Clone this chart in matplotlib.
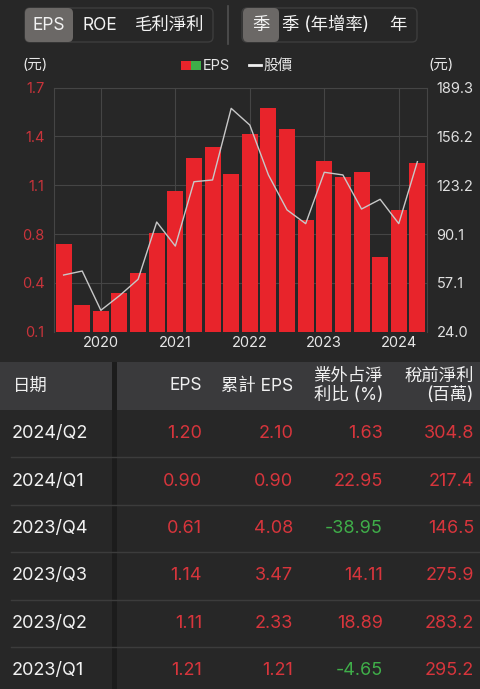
import numpy as np
import matplotlib
matplotlib.use("Agg")
import matplotlib.pyplot as plt
from matplotlib.patches import FancyBboxPatch, Rectangle

plt.rcParams['font.family'] = ['Inter', 'Noto Sans CJK TC', 'DejaVu Sans']

# ---- data ----
quarters = ["2019Q3", "2019Q4",
            "2020Q1", "2020Q2", "2020Q3", "2020Q4",
            "2021Q1", "2021Q2", "2021Q3", "2021Q4",
            "2022Q1", "2022Q2", "2022Q3", "2022Q4",
            "2023Q1", "2023Q2", "2023Q3", "2023Q4",
            "2024Q1", "2024Q2"]
eps = [0.69, 0.31, 0.27, 0.38, 0.51, 0.76, 1.02, 1.23, 1.30, 1.13,
       1.38, 1.54, 1.41, 0.84, 1.21, 1.11, 1.14, 0.61, 0.90, 1.20]
price = [62.4, 65.1, 38.5, 48.4, 59.5, 98.3, 82.0, 125.6, 126.8, 175.3,
         164.0, 130.2, 106.5, 97.2, 132.0, 130.2, 107.1, 113.7, 97.2, 139.2]
year_labels = ["2020", "2021", "2022", "2023", "2024"]
year_idx = [2, 6, 10, 14, 18]

tbl_dates = ["2024/Q2", "2024/Q1", "2023/Q4", "2023/Q3", "2023/Q2", "2023/Q1"]
tbl_eps = ["1.20", "0.90", "0.61", "1.14", "1.11", "1.21"]
tbl_cum = ["2.10", "0.90", "4.08", "3.47", "2.33", "1.21"]
tbl_ratio = ["1.63", "22.95", "-38.95", "14.11", "18.89", "-4.65"]
tbl_pretax = ["304.8", "217.4", "146.5", "275.9", "283.2", "295.2"]

BG = "#272727"
RED = "#e8242b"
TXT_RED = "#d7353c"
GREEN = "#3fae49"
W, H = 480, 689

fig = plt.figure(figsize=(W / 100, H / 100), dpi=100, facecolor=BG)

# overlay in pixel coordinates for the ui parts
ov = fig.add_axes([0, 0, 1, 1])
ov.set_xlim(0, W)
ov.set_ylim(H, 0)
ov.axis("off")
ov.set_facecolor(BG)


def rbox(x0, y0, x1, y1, fc, ec="none", r=5, z=1):
    ov.add_patch(FancyBboxPatch((x0, y0), x1 - x0, y1 - y0,
                                boxstyle=f"round,pad=0,rounding_size={r}",
                                fc=fc, ec=ec, lw=1, zorder=z))


# segmented controls
rbox(25, 8, 213, 42, BG, "#3d3d3d")
rbox(25, 8, 73, 42, "#6b6866", z=2)
for x, t in [(49, "EPS"), (100, "ROE"), (170, "毛利淨利")]:
    ov.text(x, 25.5, t, color="#f2f2f2", fontsize=12.5, ha="center", va="center", zorder=3)
ov.plot([228, 228], [6, 44], color="#505050", lw=1.2)
rbox(242, 8, 417, 42, BG, "#3d3d3d")
rbox(243, 8, 279, 42, "#6b6866", z=2)
for x, t in [(261, "季"), (325, "季 (年增率)"), (398, "年")]:
    ov.text(x, 25.5, t, color="#f2f2f2", fontsize=12.5, ha="center", va="center", zorder=3)

# axis unit labels and legend
ov.text(22, 65, "(元)", color="#e6e6e6", fontsize=10.5, ha="left", va="center")
ov.text(428, 65, "(元)", color="#e6e6e6", fontsize=10.5, ha="left", va="center")
ov.add_patch(Rectangle((181, 61), 10, 9, fc=RED, ec="none"))
ov.add_patch(Rectangle((191, 61), 10, 9, fc=GREEN, ec="none"))
ov.text(203, 65.5, "EPS", color="#e6e6e6", fontsize=10.5, ha="left", va="center")
ov.plot([249, 261], [65, 65], color="#f0f0f0", lw=2)
ov.text(263, 65.5, "股價", color="#e6e6e6", fontsize=10.5, ha="left", va="center")

# ---- chart ----
ax_l, ax_r, ax_t, ax_b = 54.3, 426.7, 87.7, 331.7
ax = fig.add_axes([ax_l / W, 1 - ax_b / H, (ax_r - ax_l) / W, (ax_b - ax_t) / H])
ax.set_facecolor("none")
x = np.arange(len(quarters))
ax.bar(x, eps, width=0.86, color=RED, zorder=2)
ax.set_xlim(-0.5, len(quarters) - 0.5)
ax.set_ylim(0.14, 1.67)
lt = np.linspace(0.14, 1.67, 6)
ax.set_yticks(lt)
ax.set_yticklabels([f"{v:.1f}" for v in lt], color="#c9343b", fontsize=10.5)
ax.set_xticks(year_idx)
ax.set_xticklabels(year_labels, color="#e6e6e6", fontsize=10.5)
ax.tick_params(length=0, pad=7)
ax.tick_params(axis="x", pad=3)
ax.grid(True, color="#454545", lw=0.8, zorder=0)
for s in ax.spines.values():
    s.set_color("#454545")
    s.set_linewidth(0.8)
ax.spines["bottom"].set_visible(False)

ax2 = ax.twinx()
ax2.plot(x, price, color="#c8c8c8", lw=1.0, zorder=3)
ax2.set_ylim(24.0, 189.3)
rt = np.linspace(24.0, 189.3, 6)
ax2.set_yticks(rt)
ax2.set_yticklabels([f"{v:.1f}" for v in rt], color="#e0e0e0", fontsize=10.5)
ax2.tick_params(length=0, pad=7)
for s in ax2.spines.values():
    s.set_visible(False)

# ---- table ----
hdr_top, hdr_bot = 362, 410
row_h = 47.4
ov.add_patch(Rectangle((0, hdr_top), 112, hdr_bot - hdr_top, fc="#3a3a3c", ec="none"))
ov.add_patch(Rectangle((117, hdr_top), W - 117, hdr_bot - hdr_top, fc="#3a3a3c", ec="none"))
ov.add_patch(Rectangle((112, hdr_top), 5, H - hdr_top, fc="#1c1c1c", ec="none", zorder=2))

hy = (hdr_top + hdr_bot) / 2
col_x = [202, 293, 383, 474]
ov.text(13, hy, "日期", color="#f0f0f0", fontsize=12.5, ha="left", va="center")
ov.text(col_x[0], hy, "EPS", color="#f0f0f0", fontsize=12.5, ha="right", va="center")
ov.text(col_x[1], hy, "累計 EPS", color="#f0f0f0", fontsize=12.5, ha="right", va="center")
ov.text(col_x[2], hy, "業外占淨\n利比 (%)", color="#f0f0f0", fontsize=12.5,
        ha="right", va="center", linespacing=1.2, multialignment="right")
ov.text(col_x[3], hy, "稅前淨利\n(百萬)", color="#f0f0f0", fontsize=12.5,
        ha="right", va="center", linespacing=1.2, multialignment="right")

for i, d in enumerate(tbl_dates):
    cy = hdr_bot + row_h * i + row_h / 2
    if i > 0:
        ov.plot([11, W], [hdr_bot + row_h * i] * 2, color="#3c3c3c", lw=1, zorder=3)
    ov.text(12, cy, d, color="#f2f2f2", fontsize=13, ha="left", va="center")
    vals = [tbl_eps[i], tbl_cum[i], tbl_ratio[i], tbl_pretax[i]]
    for cx, v in zip(col_x, vals):
        c = GREEN if v.startswith("-") else TXT_RED
        ov.text(cx, cy, v, color=c, fontsize=13, ha="right", va="center")

fig.savefig("out.png", dpi=100, facecolor=BG)
